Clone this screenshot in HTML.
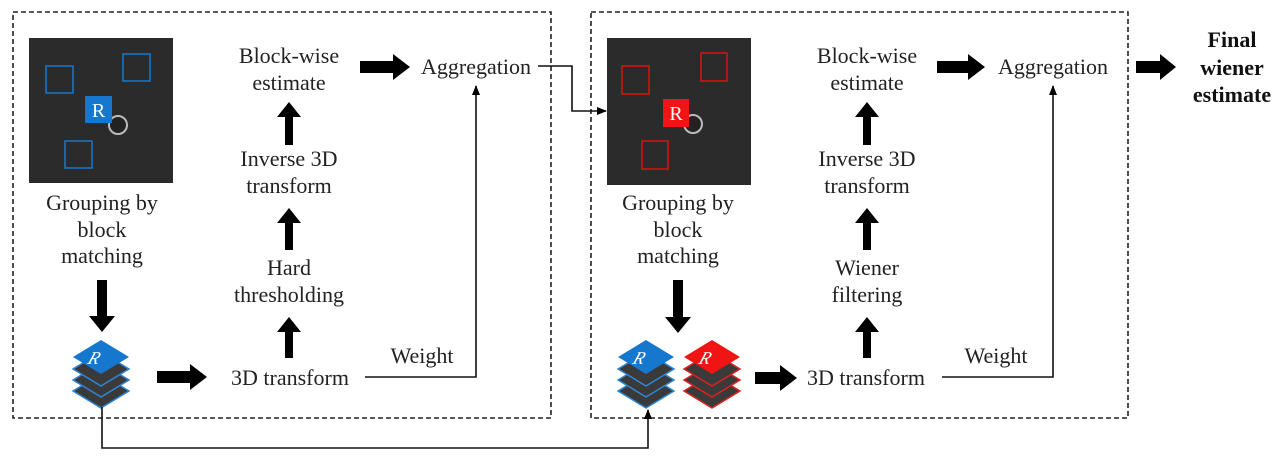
<!DOCTYPE html>
<html><head><meta charset="utf-8"><style>
html,body{margin:0;padding:0;background:#fff;}
svg{display:block;}
text{font-family:"Liberation Serif",serif;font-size:22px;fill:#222;text-anchor:middle;}
</style></head><body>
<svg width="1280" height="458" viewBox="0 0 1280 458" xmlns="http://www.w3.org/2000/svg">
<defs>
<marker id="ah" markerWidth="10" markerHeight="10" refX="9" refY="5" orient="auto" markerUnits="userSpaceOnUse">
<path d="M0,1 L10,5 L0,9 z" fill="#000"/></marker>
<g id="stackB">
 <path d="M0,34 L28,51 L0,68 L-28,51 z" fill="#3a3a3a" stroke="#2f86d6" stroke-width="1.5"/>
 <path d="M0,23 L28,40 L0,57 L-28,40 z" fill="#3a3a3a" stroke="#2f86d6" stroke-width="1.5"/>
 <path d="M0,12 L28,29 L0,46 L-28,29 z" fill="#3a3a3a" stroke="#2f86d6" stroke-width="1.5"/>
 <path d="M0,0 L28,17 L0,34 L-28,17 z" fill="#1677cf"/>
 <text x="0" y="24" transform="skewX(-20)" style="font-size:18px;fill:#fff;font-style:italic">R</text>
</g>
<g id="stackR">
 <path d="M0,34 L28,51 L0,68 L-28,51 z" fill="#3a3a3a" stroke="#e02020" stroke-width="1.5"/>
 <path d="M0,23 L28,40 L0,57 L-28,40 z" fill="#3a3a3a" stroke="#e02020" stroke-width="1.5"/>
 <path d="M0,12 L28,29 L0,46 L-28,29 z" fill="#3a3a3a" stroke="#e02020" stroke-width="1.5"/>
 <path d="M0,0 L28,17 L0,34 L-28,17 z" fill="#f01414"/>
 <text x="0" y="24" transform="skewX(-20)" style="font-size:18px;fill:#fff;font-style:italic">R</text>
</g>
</defs>

<!-- dashed boxes -->
<rect x="13" y="12" width="538" height="406" fill="none" stroke="#222" stroke-width="1.6" stroke-dasharray="5,3"/>
<rect x="591" y="12" width="537" height="406" fill="none" stroke="#222" stroke-width="1.6" stroke-dasharray="5,3"/>

<!-- left image -->
<rect x="29" y="38" width="144" height="145" fill="#2b2b2b"/>
<rect x="46" y="66" width="27" height="27" fill="none" stroke="#1677cf" stroke-width="1.5"/>
<rect x="123" y="54" width="27" height="27" fill="none" stroke="#1677cf" stroke-width="1.5"/>
<rect x="65" y="141" width="27" height="27" fill="none" stroke="#1677cf" stroke-width="1.5"/>
<circle cx="118" cy="125" r="9" fill="#222" stroke="#bbb" stroke-width="2"/>
<rect x="85" y="96" width="27" height="27" fill="#1677cf"/>
<text x="98.5" y="117" style="fill:#fff;font-size:20px">R</text>

<!-- right image -->
<rect x="607" y="38" width="144" height="147" fill="#2b2b2b"/>
<rect x="622" y="66" width="27" height="28" fill="none" stroke="#e01010" stroke-width="1.5"/>
<rect x="701" y="53" width="26" height="28" fill="none" stroke="#e01010" stroke-width="1.5"/>
<rect x="642" y="141" width="26" height="28" fill="none" stroke="#e01010" stroke-width="1.5"/>
<circle cx="693" cy="124" r="9" fill="#222" stroke="#bbb" stroke-width="2"/>
<rect x="663" y="99" width="26" height="28" fill="#f01414"/>
<text x="676" y="120" style="fill:#fff;font-size:20px">R</text>

<!-- left column texts -->
<text x="102" y="210">Grouping by</text>
<text x="102" y="237">block</text>
<text x="102" y="263">matching</text>
<text x="289" y="63">Block-wise</text>
<text x="289" y="90">estimate</text>
<text x="289" y="166">Inverse 3D</text>
<text x="289" y="193">transform</text>
<text x="289" y="275">Hard</text>
<text x="289" y="302">thresholding</text>
<text x="290" y="385">3D transform</text>
<text x="422" y="363">Weight</text>
<text x="476" y="74">Aggregation</text>

<!-- right column texts -->
<text x="678" y="210">Grouping by</text>
<text x="678" y="237">block</text>
<text x="678" y="263">matching</text>
<text x="867" y="63">Block-wise</text>
<text x="867" y="90">estimate</text>
<text x="867" y="166">Inverse 3D</text>
<text x="867" y="193">transform</text>
<text x="867" y="275">Wiener</text>
<text x="867" y="302">filtering</text>
<text x="866" y="385">3D transform</text>
<text x="996" y="363">Weight</text>
<text x="1053" y="74">Aggregation</text>

<text x="1232" y="47" style="font-weight:bold;fill:#111">Final</text>
<text x="1232" y="75" style="font-weight:bold;fill:#111">wiener</text>
<text x="1232" y="102" style="font-weight:bold;fill:#111">estimate</text>

<!-- stacks -->
<use href="#stackB" x="101" y="340"/>
<use href="#stackB" x="646" y="340"/>
<use href="#stackR" x="712" y="340"/>

<!-- thick arrows -->
<g fill="#000">
 <!-- right arrows -->
 <path d="M360,61 h33 v-7 l17,13 l-17,13 v-7 h-33 z"/>
 <path d="M157,371 h33 v-7 l17,13 l-17,13 v-7 h-33 z"/>
 <path d="M937,61 h31 v-7 l17,13 l-17,13 v-7 h-31 z"/>
 <path d="M755,372 h25 v-7 l17,13 l-17,13 v-7 h-25 z"/>
 <path d="M1136,61 h24 v-7 l16,13 l-16,13 v-7 h-24 z"/>
 <!-- down arrows -->
 <path d="M97,280 v36 h-8 l13,16 l13,-16 h-8 v-36 z"/>
 <path d="M673,280 v37 h-8 l13,16 l13,-16 h-8 v-37 z"/>
 <!-- up arrows left -->
 <path d="M285,145 v-28 h-8 l12,-15 l12,15 h-8 v28 z"/>
 <path d="M285,250 v-27 h-8 l12,-15 l12,15 h-8 v27 z"/>
 <path d="M285,358 v-26 h-8 l12,-15 l12,15 h-8 v26 z"/>
 <!-- up arrows right -->
 <path d="M863,145 v-28 h-8 l12,-15 l12,15 h-8 v28 z"/>
 <path d="M863,250 v-27 h-8 l12,-15 l12,15 h-8 v27 z"/>
 <path d="M863,358 v-26 h-8 l12,-15 l12,15 h-8 v26 z"/>
</g>

<!-- thin connectors -->
<g fill="none" stroke="#111" stroke-width="1.6">
 <path d="M365,377 H476 V86" marker-end="url(#ah)"/>
 <path d="M942,377 H1053 V86" marker-end="url(#ah)"/>
 <path d="M538,66 H572 V111 H606" marker-end="url(#ah)"/>
 <path d="M102,407 V448 H648 V410" marker-end="url(#ah)"/>
</g>
</svg>
</body></html>
